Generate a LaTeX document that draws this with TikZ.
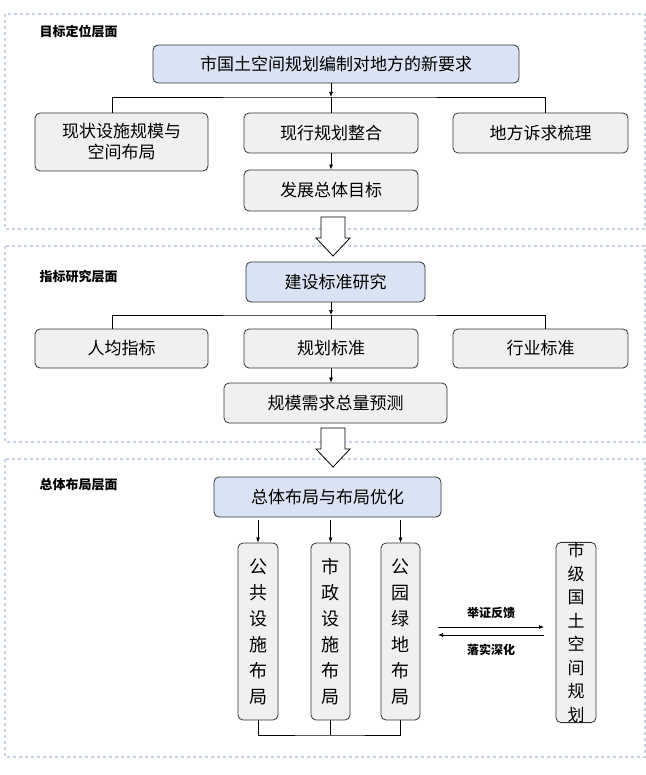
\documentclass[tikz,border=0pt]{standalone}
\usepackage{fontspec}
\setmainfont{Noto Sans CJK SC}
\usetikzlibrary{arrows.meta}
\begin{document}
\begin{tikzpicture}[x=1pt,y=-1pt,
 box/.style={draw=black!80,line width=0.8pt,rounded corners=5pt,fill=gray!12,font=\fontsize{17}{21}\selectfont,align=center,inner sep=0pt},
 bluebox/.style={box,fill={rgb,255:red,218;green,227;blue,243}},
 panel/.style={draw={rgb,255:red,200;green,210;blue,230},dashed,line width=1.1pt},
 lbl/.style={font=\fontsize{13}{15}\selectfont\bfseries,anchor=west},
 arr/.style={-{Latex[length=5pt,width=4pt]},line width=0.7pt},
 ln/.style={line width=0.7pt},
 hollow/.style={draw=black,line width=0.8pt,fill=white}]
\useasboundingbox (0,0) rectangle (645,775);
\draw[panel] (5,14) rectangle (645,229);
\draw[panel] (5,246) rectangle (645,442);
\draw[panel] (5,459) rectangle (645,757);
\node[lbl] (l1) at (36,32) {目标定位层面};
\node[lbl] (l2) at (36,277) {指标研究层面};
\node[lbl] (l3) at (36,485) {总体布局层面};
% panel 1
\node[bluebox,minimum width=366pt,minimum height=38pt] (t1) at (336,64) {市国土空间规划编制对地方的新要求};
\node[box,minimum width=173pt,minimum height=58pt] (a1) at (121.5,142) {现状设施规模与\\空间布局};
\node[box,minimum width=174pt,minimum height=40pt] (a2) at (331,133) {现行规划整合};
\node[box,minimum width=175pt,minimum height=40pt] (a3) at (540.5,133) {地方诉求梳理};
\node[box,minimum width=174pt,minimum height=41pt] (a4) at (331,190.5) {发展总体目标};
\coordinate (j1) at (331,97);
\draw[arr] (t1.south -| j1) -- (j1);
\draw[ln] (a1.north -| 112,0) |- (j1) -| (a3.north -| 545,0);
\draw[ln] (j1) -- (a2.north);
\draw[arr] (a2.south) -- (a4.north);
% hollow arrows
\draw[hollow] (321,217) -- (345,217) -- (345,238) -- (350,238) -- (333,256) -- (316,238) -- (321,238) -- cycle;
\draw[hollow] (321,428) -- (345,428) -- (345,449) -- (350,449) -- (333,467) -- (316,449) -- (321,449) -- cycle;
% panel 2
\node[bluebox,minimum width=179pt,minimum height=40pt] (t2) at (335.5,282) {建设标准研究};
\node[box,minimum width=173pt,minimum height=39pt] (b1) at (121.5,348.5) {人均指标};
\node[box,minimum width=174pt,minimum height=39pt] (b2) at (331,348.5) {规划标准};
\node[box,minimum width=175pt,minimum height=39pt] (b3) at (540.5,348.5) {行业标准};
\node[box,minimum width=223pt,minimum height=40pt] (b4) at (335.5,403) {规模需求总量预测};
\coordinate (j2) at (331,315);
\draw[arr] (t2.south -| j2) -- (j2);
\draw[ln] (b1.north -| 112,0) |- (j2) -| (b3.north -| 545,0);
\draw[ln] (j2) -- (b2.north);
\draw[arr] (b2.south) -- (b4.north -| b2.south);
% panel 3
\node[bluebox,minimum width=227pt,minimum height=40pt] (t3) at (327.5,497) {总体布局与布局优化};
\node[box,minimum width=40pt,minimum height=177pt,font=\fontsize{18}{26}\selectfont] (c1) at (258,631.5) {公\\共\\设\\施\\布\\局};
\node[box,minimum width=39pt,minimum height=177pt,font=\fontsize{18}{26}\selectfont] (c2) at (330.5,631.5) {市\\政\\设\\施\\布\\局};
\node[box,minimum width=39pt,minimum height=177pt,font=\fontsize{18}{26}\selectfont] (c3) at (400.5,631.5) {公\\园\\绿\\地\\布\\局};
\node[box,minimum width=40pt,minimum height=179pt,font=\fontsize{17}{23.5}\selectfont] (r) at (576,632.5) {市\\级\\国\\土\\空\\间\\规\\划};
\draw[arr] (c1.north |- 0,520) -- (c1.north);
\draw[arr] (c2.north |- 0,520) -- (c2.north);
\draw[arr] (c3.north |- 0,520) -- (c3.north);
\coordinate (bb) at (330.5,735);
\draw[ln] (c1.south) |- (bb) -| (c3.south);
\draw[ln] (c2.south) -- (bb);
\coordinate (p1) at (438,627);
\coordinate (p2) at (544,627);
\coordinate (q1) at (544,635);
\coordinate (q2) at (438,635);
\draw[arr] (p1) -- (p2) node[midway,above=5pt,font=\fontsize{12}{14}\selectfont\bfseries] (f1) {举证反馈};
\draw[arr] (q1) -- (q2) node[midway,below=5pt,font=\fontsize{12}{14}\selectfont\bfseries] (f2) {落实深化};
\end{tikzpicture}
\end{document}
